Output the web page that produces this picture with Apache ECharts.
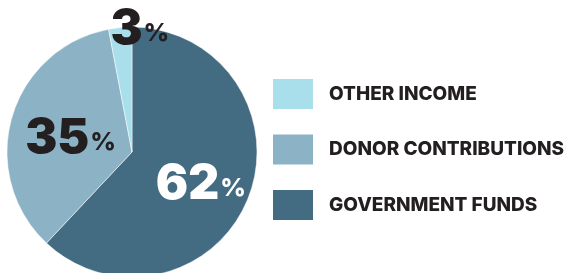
<!DOCTYPE html>
<html>
<head>
<meta charset="utf-8">
<script src="https://cdn.jsdelivr.net/npm/echarts@6/dist/echarts.min.js"></script>
<style>
  html, body { margin: 0; padding: 0; background: #fff; }
  #chart { width: 564px; height: 273px; }
</style>
</head>
<body>
<div id="chart"></div>
<script>
// income sources, in drawing order (clockwise from 12 o'clock)
const names = ['GOVERNMENT FUNDS', 'DONOR CONTRIBUTIONS', 'OTHER INCOME']
const shares = [62, 35, 3]
const colors = ['#436b82', '#8cb2c5', '#a9deeb']
// legend reads top to bottom
const legendOrder = ['OTHER INCOME', 'DONOR CONTRIBUTIONS', 'GOVERNMENT FUNDS']

const labelColors = ['#ffffff', '#231f20', '#231f20']
const labelOffsets = [[8, 8.5], [1.5, 5], [14, -57]]

const chart = echarts.init(document.getElementById('chart'))

chart.setOption({
  animation: false,
  color: colors,
  legend: {
    data: legendOrder,
    orient: 'vertical',
    left: 266,
    top: 72,
    itemWidth: 42,
    itemHeight: 32,
    itemGap: 21.5,
    icon: 'rect',
    selectedMode: false,
    textStyle: {
      fontFamily: 'Inter',
      fontWeight: 800,
      fontSize: 19,
      color: '#231f20',
      padding: [0, 0, 0, 10]
    }
  },
  series: [{
    type: 'pie',
    center: [132, 152],
    radius: 125,
    startAngle: 90,
    clockwise: true,
    silent: true,
    itemStyle: { borderColor: '#fff', borderWidth: 0.5 },
    labelLine: { show: false },
    label: {
      show: true,
      position: 'inside',
      formatter: p => '{n|' + p.value + '}{p|%}',
      rich: {
        n: { fontFamily: 'Inter', fontWeight: 900, fontSize: 48 },
        p: { fontFamily: 'Inter', fontWeight: 800, fontSize: 25, padding: [8, 0, 0, 1] }
      }
    },
    labelLayout: p => ({ dx: labelOffsets[p.dataIndex][0], dy: labelOffsets[p.dataIndex][1] }),
    data: names.map((name, i) => ({
      name: name,
      value: shares[i],
      label: { color: labelColors[i], rich: { n: { color: labelColors[i] }, p: { color: labelColors[i] } } }
    }))
  }]
})
</script>
</body>
</html>
